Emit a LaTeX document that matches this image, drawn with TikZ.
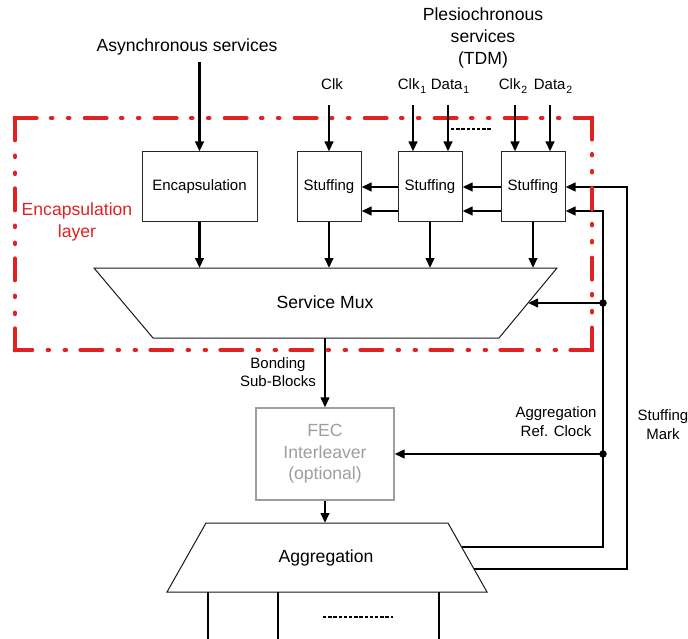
\documentclass[tikz,border=0pt]{standalone}
\usepackage{fontspec}
\setmainfont{Liberation Sans}
\usetikzlibrary{arrows.meta,calc}
\definecolor{layerred}{RGB}{224,34,34}
\definecolor{optgray}{RGB}{158,158,158}
\newcommand{\lowidx}[1]{\kern0.8pt\raisebox{-4pt}{\fontsize{10.5}{10.5}\selectfont #1}}
\tikzset{
  blk/.style={draw=black!85, line width=1pt, fill=white, inner sep=0pt, font=\fontsize{15}{18}\selectfont},
  optblk/.style={draw=optgray, line width=1.1pt, fill=white, inner sep=0pt, text=optgray, align=center, font=\fontsize{17.6}{21.5}\selectfont},
  sig/.style={line width=2.3pt, -{Triangle[length=10pt,width=8.5pt]}},
  wire/.style={line width=2.3pt},
  edge/.style={line width=1pt, draw=black!90, fill=white, line join=miter},
  dots/.style={line width=2.2pt, dash pattern=on 3.4pt off 1.8pt},
  layer/.style={draw=layerred, line width=4.7pt, line cap=round,
    dash pattern=on 21.3pt off 14.85pt on 1pt off 16pt on 1pt off 15.85pt},
  big/.style={inner sep=0pt, align=center, font=\fontsize{17.6}{22}\selectfont},
  small/.style={inner sep=0pt, align=center, font=\fontsize{15}{18.5}\selectfont},
  junction/.style={circle, fill=black, inner sep=0pt, minimum size=7.5pt}
}
\begin{document}
\begin{tikzpicture}[x=1pt,y=-1pt]
\useasboundingbox (0,0) rectangle (688,639);

% ---- functional blocks ----
\node[blk, minimum width=115pt, minimum height=70pt] (enc) at (199.5,187) {Encapsulation};
\node[blk, minimum width=64pt, minimum height=70pt] (s1) at (329,187) {Stuffing};
\node[blk, minimum width=64pt, minimum height=70pt] (s2) at (430,187) {Stuffing};
\node[blk, minimum width=64pt, minimum height=70pt] (s3) at (533,187) {Stuffing};
\node[optblk, minimum width=138pt, minimum height=92pt] (fec) at (325,454) {FEC\\Interleaver\\(optional)};

% ---- service mux ----
\coordinate (muxTL) at (94,268);
\coordinate (muxTR) at (557,268);
\coordinate (muxBR) at (499,338);
\coordinate (muxBL) at (153,338);
\draw[edge] (muxTL) -- (muxTR) -- (muxBR) -- (muxBL) -- cycle;
\node[big] (muxlbl) at (325,302) {Service Mux};
\coordinate (muxR) at ($(muxTR)!0.5!(muxBR)$);

% ---- aggregation ----
\coordinate (aggTL) at (206,523);
\coordinate (aggTR) at (448,523);
\coordinate (aggBR) at (487,592);
\coordinate (aggBL) at (167,592);
\draw[edge] (aggTL) -- (aggTR) -- (aggBR) -- (aggBL) -- cycle;
\node[big] (agglbl) at (326,558) {Aggregation};
\coordinate (aggR1) at ($(aggTR)!{24/69}!(aggBR)$);
\coordinate (aggR2) at ($(aggTR)!{46/69}!(aggBR)$);

% ---- feedback wires from aggregation ----
\coordinate (rcCorner) at (603,547);
\coordinate (rcTop) at (603,211);
\coordinate (smCorner) at (627,569);
\coordinate (smTop) at (627,187);
\coordinate (j1) at (603,303);
\coordinate (j2) at (603,454);
\draw[sig] (aggR2) -- (aggR2 -| smCorner) -- (smTop) -- (s3.east);
\draw[sig] (aggR1) -- (aggR1 -| rcCorner) -- (rcTop) -- (rcTop -| s3.east);
\draw[sig] (j1) -- (muxR);
\draw[sig] (j2) -- (fec.east);
\node[junction] (jd1) at (j1) {};
\node[junction] (jd2) at (j2) {};

% ---- encapsulation layer boundary: each side starts with a dash at a corner ----
\coordinate (lTL) at (15,118);
\coordinate (lTR) at (592,118);
\coordinate (lBR) at (592,350);
\coordinate (lBL) at (15,350);
\draw[layer] (lTL) -- (lTR);
\draw[layer] (lTR) -- (lBR);
\draw[layer] (lBR) -- (lBL);
\draw[layer] (lBL) -- (lTL);
\foreach \c in {lTL,lTR,lBR,lBL}
  \fill[layerred] ($(\c)+(-2.35,-2.35)$) rectangle ($(\c)+(2.35,2.35)$);
\node[big, text=layerred] (layerlbl) at (77,222) {Encapsulation\\layer};

% ---- service inputs ----
\node[big] (async) at (187,47) {Asynchronous services};
\node[big] (pleslbl) at (483,37.5) {Plesiochronous\\services\\(TDM)};
\node[small] (clk0) at (332,84) {Clk};
\node[small, anchor=base] (clk1) at (412,89.5) {Clk\lowidx{1}};
\node[small, anchor=base] (dat1) at (450,89.5) {Data\lowidx{1}};
\node[small, anchor=base] (clk2) at (513,89.5) {Clk\lowidx{2}};
\node[small, anchor=base] (dat2) at (553,89.5) {Data\lowidx{2}};

\coordinate (asyncIn) at (199.5,62);
\coordinate (clk0In) at (329,105);
\coordinate (clk1In) at (413,105);
\coordinate (dat1In) at (448,105);
\coordinate (clk2In) at (515,105);
\coordinate (dat2In) at (550,105);
\draw[sig] (asyncIn) -- (enc.north);
\draw[sig] (clk0In) -- (s1.north);
\draw[sig] (clk1In) -- (clk1In |- s2.north);
\draw[sig] (dat1In) -- (dat1In |- s2.north);
\draw[sig] (clk2In) -- (clk2In |- s3.north);
\draw[sig] (dat2In) -- (dat2In |- s3.north);
\coordinate (moreA) at (451,129);
\coordinate (moreB) at (492,129);
\draw[dots] (moreA) -- (moreB);

% ---- stuffing chain ----
\draw[sig] (s2.west) -- (s1.east);
\draw[sig] ($(s2.west)+(0,24)$) -- ($(s1.east)+(0,24)$);
\draw[sig] (s3.west) -- (s2.east);
\draw[sig] ($(s3.west)+(0,24)$) -- ($(s2.east)+(0,24)$);

% ---- into the mux ----
\draw[sig] (enc.south) -- (enc.south |- muxTL);
\draw[sig] (s1.south) -- (s1.south |- muxTL);
\draw[sig] (s2.south) -- (s2.south |- muxTL);
\draw[sig] (s3.south) -- (s3.south |- muxTL);

% ---- mux to FEC to aggregation ----
\draw[sig] (fec.north |- muxBL) -- (fec.north);
\node[small] (bondlbl) at (278,372) {Bonding\\Sub-Blocks};
\draw[sig] (fec.south) -- (fec.south |- aggTL);

\node[small] (rclbl) at (556,421.5) {Aggregation\\Ref. Clock};
\node[small] (smlbl) at (663,424.5) {Stuffing\\Mark};

% ---- aggregated outputs ----
\coordinate (o1) at (208,592);
\coordinate (o2) at (278,592);
\coordinate (o3) at (439,592);
\draw[wire] (o1) -- (o1 |- 0,639);
\draw[wire] (o2) -- (o2 |- 0,639);
\draw[wire] (o3) -- (o3 |- 0,639);
\coordinate (moreC) at (323,617);
\coordinate (moreD) at (393,617);
\draw[dots] (moreC) -- (moreD);
\end{tikzpicture}
\end{document}
